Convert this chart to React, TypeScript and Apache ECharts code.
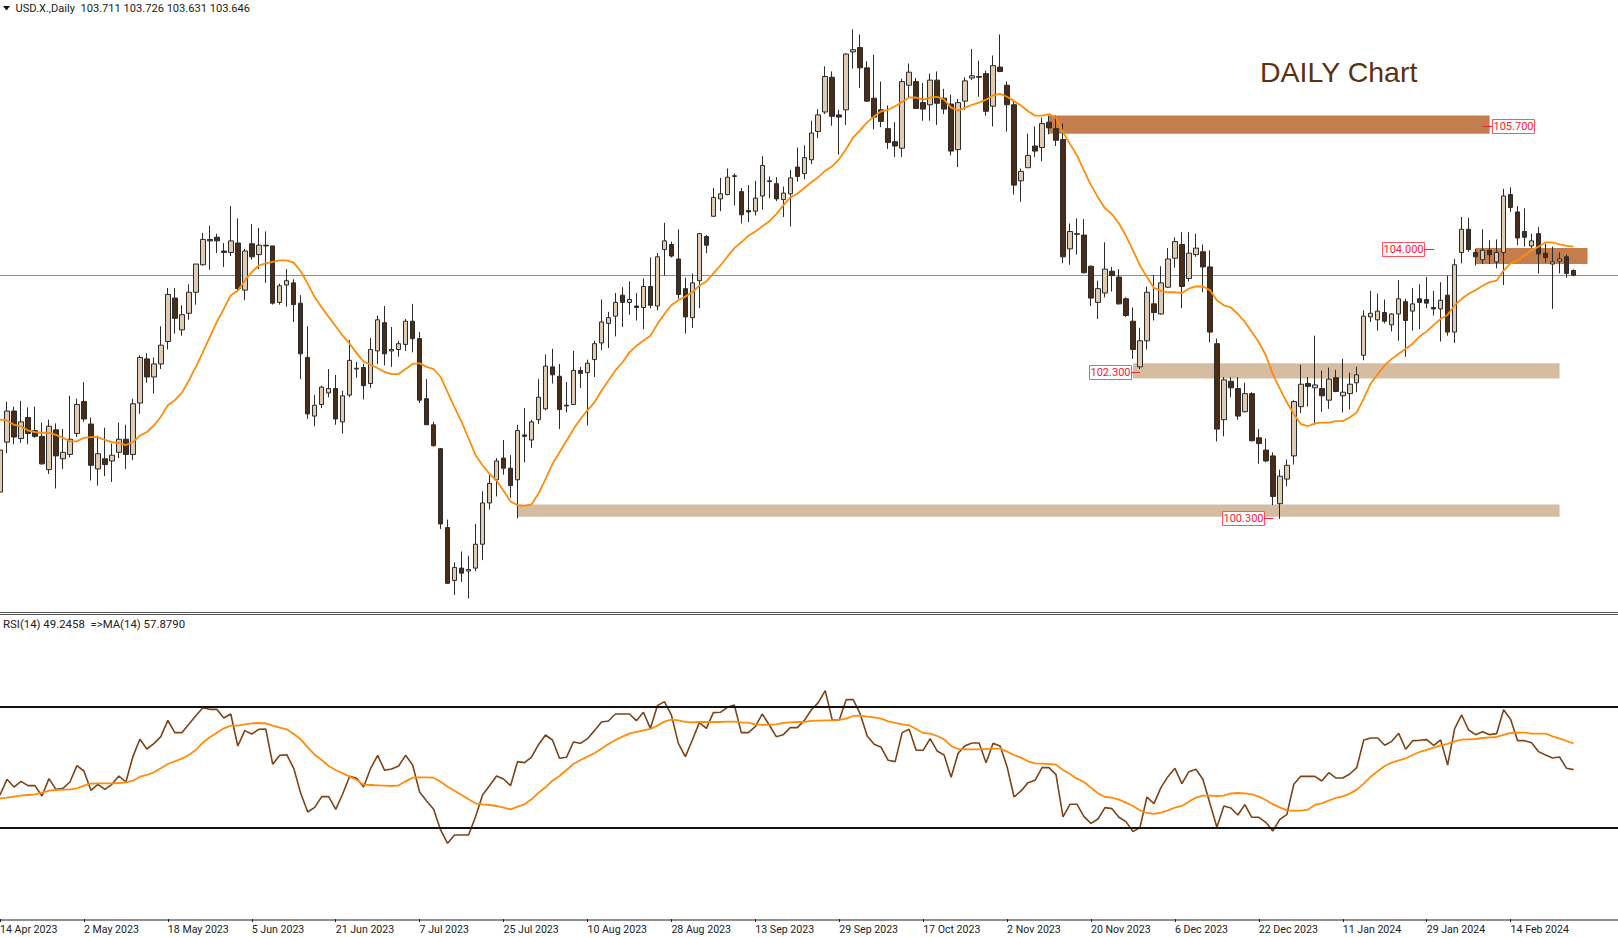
import React, { useEffect, useRef } from 'react';
import * as echarts from 'echarts';

const chartTitle = 'DAILY Chart';
const headerText = 'USD.X.,Daily  103.711 103.726 103.631 103.646';
const rsiText = 'RSI(14) 49.2458  =>MA(14) 57.8790';

// one label every 12 bars, starting at the first bar
const tickLabels = [
  '14 Apr 2023', '2 May 2023', '18 May 2023', '5 Jun 2023', '21 Jun 2023', '7 Jul 2023', '25 Jul 2023',
  '10 Aug 2023', '28 Aug 2023', '13 Sep 2023', '29 Sep 2023', '17 Oct 2023', '2 Nov 2023', '20 Nov 2023',
  '6 Dec 2023', '22 Dec 2023', '11 Jan 2024', '29 Jan 2024', '14 Feb 2024',
];

const lastClose = 103.646;
const rsiLevels = [70, 30];

// [open, close, low, high]
const candles = [
  [100.65,101.23,100.42,101.41],[101.34,101.77,101.19,101.90],[101.77,101.41,101.31,101.83],[101.39,101.62,101.33,101.91],
  [101.68,101.46,101.31,101.82],[101.50,101.42,101.40,101.83],[101.42,101.04,101.03,101.61],[100.96,101.56,100.90,101.65],
  [101.51,101.15,100.70,101.60],[101.11,101.20,100.97,101.52],[101.17,101.38,101.13,101.98],[101.46,101.86,101.41,101.94],
  [101.90,101.66,101.62,102.17],[101.59,101.02,100.81,101.68],[100.97,101.18,100.74,101.43],[101.11,101.03,100.87,101.54],
  [101.08,101.16,100.79,101.32],[101.20,101.38,101.12,101.61],[101.38,101.17,100.97,101.58],[101.17,101.87,101.09,101.94],
  [101.88,102.51,101.73,102.54],[102.49,102.24,102.16,102.57],[102.24,102.42,102.01,102.51],[102.42,102.68,102.35,102.94],
  [102.73,103.38,102.62,103.47],[103.33,103.05,102.84,103.47],[102.89,103.10,102.81,103.23],[103.12,103.41,103.03,103.52],
  [103.41,103.80,103.24,103.80],[103.79,104.14,103.78,104.23],[104.14,104.12,103.72,104.33],[104.17,104.12,103.95,104.22],
  [103.98,103.96,103.76,104.09],[103.96,104.12,103.91,104.60],[104.09,103.46,103.44,104.43],[103.44,103.98,103.30,104.01],
  [104.08,103.90,103.86,104.35],[103.93,104.06,103.73,104.30],[104.06,104.05,103.54,104.25],[104.05,103.26,103.24,104.05],
  [103.27,103.50,103.24,103.53],[103.51,103.57,103.21,103.73],[103.54,103.24,103.00,103.59],[103.26,102.56,102.21,103.37],
  [102.51,101.73,101.66,102.94],[101.70,101.85,101.56,101.99],[101.86,102.10,101.81,102.12],[102.02,102.08,101.96,102.35],
  [102.08,101.66,101.58,102.27],[101.62,101.98,101.46,102.05],[101.99,102.47,101.96,102.75],[102.35,102.36,102.23,102.45],
  [102.37,102.12,101.93,102.42],[102.15,102.62,102.09,102.78],[102.60,103.03,102.42,103.09],[102.99,102.56,102.40,103.22],
  [102.60,102.62,102.38,102.93],[102.62,102.70,102.52,102.74],[102.69,103.01,102.60,103.04],[103.01,102.77,102.58,103.25],
  [102.77,101.92,101.88,102.86],[101.94,101.58,101.58,102.21],[101.58,101.29,101.28,101.62],[101.25,100.21,100.14,101.26],
  [100.16,99.39,99.38,100.27],[99.43,99.61,99.23,99.68],[99.60,99.53,99.41,99.83],[99.56,99.58,99.18,99.77],
  [99.60,99.93,99.56,100.21],[99.93,100.50,99.71,100.66],[100.50,100.77,100.41,100.90],[100.82,101.08,100.59,101.12],
  [101.12,100.98,100.89,101.37],[100.98,100.74,100.57,101.16],[100.82,101.50,100.29,101.58],[101.44,101.42,101.06,101.81],
  [101.37,101.62,101.26,101.65],[101.65,101.96,101.59,102.21],[101.80,102.39,101.78,102.55],[102.38,102.27,102.15,102.63],
  [102.25,101.79,101.52,102.42],[101.85,101.84,101.75,102.17],[101.86,102.33,101.85,102.60],[102.33,102.29,102.09,102.38],
  [102.30,102.43,101.57,102.48],[102.48,102.70,102.24,102.74],[102.71,103.00,102.61,103.31],[102.98,103.06,102.64,103.14],
  [103.08,103.27,102.80,103.40],[103.37,103.27,102.93,103.48],[103.27,103.31,103.10,103.56],[103.22,103.20,103.02,103.40],
  [103.20,103.49,102.90,103.60],[103.49,103.23,103.19,103.89],[103.22,103.90,103.16,103.95],[104.00,104.12,103.64,104.37],
  [104.07,103.91,103.89,104.11],[103.87,103.38,103.32,104.28],[103.46,103.07,102.84,103.61],[103.06,103.54,102.92,103.67],
  [103.57,104.22,103.19,104.23],[104.18,104.06,103.95,104.20],[104.46,104.72,104.45,104.85],[104.70,104.77,104.53,104.99],
  [104.76,105.00,104.75,105.12],[105.01,105.02,104.61,105.05],[104.80,104.48,104.36,104.85],[104.54,104.52,104.38,104.89],
  [104.53,104.71,104.47,104.95],[104.74,105.16,104.55,105.29],[104.94,104.95,104.71,105.01],[104.91,104.70,104.67,105.00],
  [104.69,104.78,104.45,104.87],[104.77,104.99,104.32,105.10],[105.14,105.01,104.94,105.41],[105.05,105.27,104.97,105.44],
  [105.24,105.61,105.18,105.78],[105.63,105.86,105.54,105.94],[105.90,106.39,105.87,106.53],[106.38,105.84,105.71,106.46],
  [105.86,105.83,105.31,105.93],[105.93,106.70,105.72,106.71],[106.73,106.76,106.50,107.04],[106.79,106.51,106.23,106.97],
  [106.51,106.05,106.04,106.60],[106.09,105.83,105.66,106.69],[105.93,105.77,105.69,106.32],[105.67,105.48,105.39,105.99],
  [105.49,105.43,105.28,105.76],[105.40,106.32,105.28,106.36],[106.27,106.45,106.10,106.57],[106.32,105.95,105.95,106.37],
  [106.03,105.94,105.78,106.30],[106.00,106.34,105.78,106.43],[106.34,106.02,105.72,106.46],[106.09,105.94,105.87,106.22],
  [106.01,105.36,105.30,106.14],[105.38,106.03,105.14,106.08],[106.05,106.33,105.93,106.38],[106.37,106.40,106.34,106.77],
  [106.39,106.38,106.11,106.61],[106.43,105.91,105.85,106.47],[105.98,106.54,105.70,106.68],[106.52,106.46,106.45,106.97],
  [106.27,106.00,105.63,106.32],[106.00,104.89,104.76,106.07],[104.95,105.08,104.66,105.12],[105.13,105.30,105.13,105.60],
  [105.43,105.36,105.28,105.70],[105.41,105.74,105.22,105.82],[105.76,105.68,105.59,105.85],[105.67,105.51,105.43,105.85],
  [105.52,103.90,103.81,105.74],[104.01,104.25,103.79,104.36],[104.21,104.22,103.93,104.43],[104.20,103.68,103.67,104.42],
  [103.77,103.33,103.22,103.78],[103.27,103.46,103.04,103.57],[103.40,103.73,103.34,104.10],[103.70,103.64,103.42,103.76],
  [103.62,103.25,103.24,103.73],[103.32,103.09,103.07,103.34],[103.01,102.62,102.49,103.20],[102.38,102.74,102.35,102.92],
  [102.74,103.41,102.62,103.49],[103.25,103.13,103.02,103.65],[103.11,103.54,103.10,103.77],[103.48,103.87,103.47,104.02],
  [103.88,104.11,103.75,104.17],[104.07,103.49,103.19,104.24],[103.60,103.95,103.56,104.24],[103.93,104.02,103.90,104.22],
  [103.97,103.76,103.41,104.07],[103.76,102.86,102.72,103.99],[102.70,101.52,101.35,102.77],[101.65,102.20,101.42,102.24],
  [102.18,102.09,101.96,102.24],[102.08,101.70,101.65,102.24],[101.76,102.01,101.75,102.16],[102.01,101.36,101.35,102.03],
  [101.40,101.32,101.04,101.52],[101.23,101.08,101.06,101.39],[101.15,100.59,100.47,101.20],[100.49,100.87,100.28,100.96],
  [100.83,101.02,100.73,101.10],[101.15,101.90,101.03,101.92],[101.83,102.14,101.74,102.41],[102.15,102.11,101.83,102.24],
  [102.09,102.13,101.58,102.81],[102.08,101.98,101.76,102.33],[101.92,102.21,101.80,102.37],[102.23,102.04,102.03,102.34],
  [101.98,102.03,101.75,102.49],[102.01,102.14,101.79,102.30],[102.16,102.27,102.03,102.38],[102.54,103.08,102.47,103.16],
  [103.07,103.12,103.00,103.43],[103.03,103.15,102.88,103.39],[103.13,103.01,102.98,103.31],[102.96,103.11,102.87,103.12],
  [103.11,103.32,102.74,103.58],[103.28,103.02,102.52,103.32],[103.15,103.25,102.88,103.47],[103.32,103.27,102.90,103.52],
  [103.31,103.26,103.19,103.62],[103.20,103.18,103.09,103.43],[103.18,103.30,102.73,103.55],[103.37,102.86,102.81,103.64],
  [102.86,103.79,102.71,103.87],[103.96,104.28,103.81,104.45],[104.28,104.00,103.97,104.44],[103.96,103.90,103.78,104.01],
  [103.86,103.99,103.80,104.28],[103.99,103.93,103.80,104.13],[103.83,103.96,103.74,104.14],[103.96,104.74,103.51,104.84],
  [104.76,104.58,104.52,104.86],[104.52,104.16,104.06,104.60],[104.25,104.17,104.04,104.57],[104.05,104.12,104.02,104.22],
  [104.22,103.94,103.67,104.31],[103.95,103.89,103.82,104.08],[103.80,103.83,103.18,104.04],[103.84,103.87,103.67,103.96],
  [103.90,103.67,103.61,103.93],[103.711,103.646,103.631,103.726],
];

const priceMa = [
  101.65,101.64,101.58,101.56,101.50,101.48,101.47,101.47,101.44,101.40,101.35,101.35,101.40,101.41,101.41,101.37,
  101.34,101.33,101.30,101.34,101.43,101.48,101.57,101.69,101.85,101.92,102.02,102.19,102.38,102.58,102.79,103.00,
  103.18,103.37,103.43,103.57,103.69,103.78,103.81,103.83,103.85,103.85,103.82,103.70,103.53,103.34,103.20,103.07,
  102.94,102.81,102.70,102.57,102.45,102.41,102.36,102.31,102.28,102.28,102.35,102.42,102.43,102.38,102.35,102.24,
  102.03,101.82,101.62,101.39,101.16,101.02,100.90,100.81,100.67,100.52,100.47,100.46,100.48,100.63,100.83,101.04,
  101.20,101.36,101.52,101.66,101.78,101.89,102.05,102.19,102.33,102.44,102.58,102.67,102.74,102.81,102.97,103.11,
  103.23,103.30,103.35,103.41,103.50,103.56,103.67,103.78,103.90,104.02,104.10,104.19,104.25,104.32,104.39,104.49,
  104.61,104.72,104.77,104.85,104.93,105.00,105.09,105.15,105.25,105.39,105.55,105.65,105.76,105.84,105.91,105.93,
  105.98,106.04,106.10,106.10,106.07,106.10,106.11,106.07,105.96,105.92,105.96,106.00,106.03,106.07,106.13,106.15,
  106.11,106.05,105.99,105.91,105.85,105.85,105.87,105.82,105.62,105.46,105.30,105.09,104.89,104.72,104.57,104.49,
  104.36,104.19,103.99,103.78,103.62,103.47,103.43,103.41,103.41,103.40,103.46,103.49,103.49,103.44,103.30,103.23,
  103.20,103.11,103.00,102.86,102.72,102.54,102.28,102.08,101.89,101.73,101.59,101.56,101.60,101.61,101.61,101.63,
  101.63,101.68,101.75,101.94,102.15,102.28,102.40,102.49,102.56,102.63,102.70,102.80,102.87,102.96,103.04,103.10,
  103.23,103.32,103.39,103.44,103.50,103.55,103.57,103.71,103.81,103.85,103.92,103.99,104.04,104.10,104.10,104.07,
  104.05,104.04,
];

const rsiValues = [
  40.89,46.05,43.52,45.39,43.96,43.96,40.56,46.27,42.75,43.08,45.17,50.56,48.80,42.42,44.40,42.75,44.40,47.15,45.17,53.52,
  59.24,56.05,57.81,60.12,65.50,61.44,61.44,64.18,67.04,69.68,69.13,69.13,66.27,67.59,57.04,62.10,61.00,62.54,62.65,51.00,
  53.96,54.18,49.68,41.43,35.28,36.82,40.34,40.34,36.16,41.22,47.04,46.38,43.52,49.68,53.96,49.02,49.46,50.45,53.96,50.78,
  41.88,38.91,36.16,29.35,24.95,27.70,27.70,27.70,33.74,40.89,43.96,47.15,46.16,43.96,51.88,51.55,53.41,57.48,
  60.67,59.02,52.98,53.31,58.36,57.92,59.46,62.10,64.96,65.29,67.60,67.60,67.60,65.40,68.15,62.87,70.34,71.66,67.27,57.92,
  53.53,59.02,64.74,62.87,68.04,68.15,69.79,70.56,61.44,61.44,63.42,67.60,63.97,60.12,60.78,63.09,63.09,65.40,68.91,71.33,
  75.29,65.62,65.62,72.32,72.32,67.60,60.34,57.60,56.61,52.32,51.88,61.44,62.54,55.62,55.62,59.46,55.40,54.08,46.72,54.63,
  57.16,58.03,58.03,51.55,57.92,57.05,50.23,40.23,42.21,44.96,45.73,49.90,49.90,47.59,33.64,37.81,37.81,
  33.75,31.55,32.98,36.71,36.38,33.53,32.10,28.80,30.12,40.23,38.03,43.31,46.93,49.68,44.63,48.58,49.35,46.06,38.14,30.23,
  37.26,36.60,34.30,37.70,33.53,33.53,31.88,29.02,32.87,34.41,44.41,47.04,47.04,47.04,45.51,48.25,46.50,46.50,47.81,49.90,
  59.02,59.68,59.68,57.27,58.58,61.22,55.95,58.80,58.91,59.13,57.27,59.02,50.78,62.76,67.27,62.32,60.78,61.77,60.78,61.11,
  69.02,65.84,58.80,58.80,58.14,55.18,54.08,53.09,53.42,49.68,49.25,
];

const rsiMa = [
  39.79,40.01,40.34,40.67,40.89,41.11,41.65,42.31,42.53,42.64,42.75,43.08,43.96,44.62,44.73,44.73,44.73,44.84,45.06,45.61,
  46.93,47.48,48.36,49.68,51.11,51.99,52.86,54.07,55.72,58.14,59.90,61.44,62.87,63.74,63.74,64.18,64.51,64.62,64.51,63.74,
  63.09,62.54,61.00,59.24,56.60,54.18,52.42,50.45,49.13,48.03,46.93,45.83,44.29,44.18,44.07,43.96,43.85,44.07,45.39,46.60,
  46.71,46.71,46.60,45.28,43.63,42.31,40.89,39.46,38.14,37.81,37.59,37.26,36.71,36.16,37.04,37.81,39.46,41.65,
  43.42,45.62,47.15,49.13,51.11,52.43,53.53,54.63,56.17,57.71,59.02,60.12,61.11,61.66,62.21,62.65,63.75,65.07,65.73,65.51,
  64.96,64.85,64.96,64.96,64.96,64.96,65.07,65.07,64.85,64.74,64.19,63.97,64.08,64.19,64.63,64.85,64.96,64.96,65.29,65.40,
  65.51,65.51,65.62,66.06,66.94,67.05,66.72,66.50,66.06,65.18,64.63,64.19,63.86,62.65,61.33,61.11,60.34,59.24,57.05,56.06,
  55.95,55.95,55.95,56.06,56.17,56.17,55.18,54.08,53.20,51.99,51.33,51.22,51.11,50.89,49.13,47.81,46.28,
  45.18,43.31,41.44,40.23,40.01,39.35,38.36,37.26,35.84,34.96,34.63,35.07,35.84,36.71,37.26,38.69,40.01,40.67,40.67,40.56,
  40.67,41.44,41.55,41.44,41.11,40.34,39.24,37.81,36.82,35.84,35.73,35.73,36.05,37.59,38.14,39.02,39.90,40.45,41.33,42.65,
  44.63,46.93,48.69,50.45,51.55,52.32,52.98,54.08,55.07,55.73,56.50,57.27,57.71,58.58,59.13,59.24,59.35,59.68,59.90,60.01,
  60.67,61.33,61.44,61.44,61.11,61.11,61.11,60.23,59.46,58.69,57.88,
];

// [first bar, last bar, upper price, lower price]
const darkZones = [
  [150, 213, 105.85, 105.60],
  [211, 227, 104.02, 103.80],
];
const lightZones = [
  [162, 223, 102.43, 102.22],
  [74, 223, 100.48, 100.31],
];

// text, box left, box top, dash start, dash end
const levelLabels: [string, number, number, number, number][] = [
  ['105.700', 1492, 119, 1483, 1492],
  ['104.000', 1382, 242, 1424, 1434],
  ['102.300', 1089, 365, 1131, 1140],
  ['100.300', 1222, 511, 1264, 1273],
];

const BAR_COUNT = 233; // the axis runs on past the last candle
const categories = Array.from({ length: BAR_COUNT }, (_, i) => String(i));
const uiFont = 'Roboto';
const red = '#f5202f';

function zoneAreas(zones: number[][], color: string) {
  return zones.map(([from, to, top, bottom]) => [
    { xAxis: from, yAxis: top, itemStyle: { color, opacity: 1 } },
    { xAxis: to, yAxis: bottom },
  ]);
}

function levelGraphics() {
  const out: any[] = [];
  levelLabels.forEach(([text, left, top, dashFrom, dashTo]) => {
    out.push({
      type: 'rect',
      shape: { x: left + 0.5, y: top + 0.5, width: 42, height: 14 },
      style: { fill: '#fff', stroke: '#ff5560', lineWidth: 1 },
      z: 20,
    });
    out.push({
      type: 'text',
      x: left + 21.5,
      y: top + 7.5,
      style: { text, fill: red, font: `11px ${uiFont}`, textAlign: 'center', textVerticalAlign: 'middle' },
      z: 21,
    });
    out.push({
      type: 'line',
      shape: { x1: dashFrom, y1: top + 7.5, x2: dashTo, y2: top + 7.5 },
      style: { stroke: red, lineWidth: 1 },
      z: 20,
    });
  });
  return out;
}

function buildOption() {
  return {
    animation: false,
    backgroundColor: '#ffffff',
    grid: [
      { left: 0, top: 0.5, width: 1622.5, height: 612, outerBoundsMode: 'none' },
      { left: 0, top: 615.7, width: 1622.5, height: 303.3, outerBoundsMode: 'none' },
    ],
    xAxis: [
      { type: 'category', gridIndex: 0, data: categories, boundaryGap: false, show: false },
      {
        type: 'category',
        gridIndex: 1,
        data: categories,
        boundaryGap: false,
        axisLine: { show: false },
        axisTick: {
          show: true,
          length: 3,
          lineStyle: { color: '#222' },
          interval: (i: number) => i % 12 === 0 && i / 12 < tickLabels.length,
        },
        axisLabel: {
          show: true,
          color: '#222',
          fontFamily: uiFont,
          fontSize: 10.6,
          align: 'left',
          margin: 5,
          hideOverlap: false,
          interval: (i: number) => i % 12 === 0 && i / 12 < tickLabels.length,
          formatter: (_v: string, i: number) => tickLabels[i / 12] ?? '',
        },
        splitLine: { show: false },
      },
    ],
    yAxis: [
      { type: 'value', gridIndex: 0, min: 98.987, max: 107.44, show: false, splitLine: { show: false } },
      { type: 'value', gridIndex: 1, min: 0, max: 100, show: false, splitLine: { show: false } },
    ],
    series: [
      {
        name: 'zones',
        type: 'line',
        xAxisIndex: 0,
        yAxisIndex: 0,
        data: [],
        z: 1,
        silent: true,
        markArea: {
          silent: true,
          data: [...zoneAreas(darkZones, '#c47d4c'), ...zoneAreas(lightZones, '#d6bda2')],
        },
      },
      {
        name: 'USD.X.',
        type: 'candlestick',
        xAxisIndex: 0,
        yAxisIndex: 0,
        barWidth: 5,
        z: 3,
        data: candles,
        itemStyle: {
          color: '#e0ccb2',
          color0: '#4a2c17',
          borderColor: '#2b2b2b',
          borderColor0: '#2b2b2b',
          borderWidth: 1,
        },
        markLine: {
          silent: true,
          symbol: 'none',
          label: { show: false },
          lineStyle: { color: '#8592a6', width: 1, type: 'solid' },
          data: [{ yAxis: lastClose }],
          z: 2,
        },
      },
      {
        name: 'MA',
        type: 'line',
        xAxisIndex: 0,
        yAxisIndex: 0,
        data: priceMa,
        showSymbol: false,
        z: 4,
        lineStyle: { color: '#ff8c0a', width: 1.8 },
      },
      {
        name: 'RSI',
        type: 'line',
        xAxisIndex: 1,
        yAxisIndex: 1,
        data: rsiValues,
        showSymbol: false,
        z: 4,
        lineStyle: { color: '#7b4519', width: 1.6 },
        markLine: {
          silent: true,
          symbol: 'none',
          label: { show: false },
          lineStyle: { color: '#111', width: 2, type: 'solid' },
          data: rsiLevels.map((v) => ({ yAxis: v })),
        },
      },
      {
        name: 'RSI MA',
        type: 'line',
        xAxisIndex: 1,
        yAxisIndex: 1,
        data: rsiMa,
        showSymbol: false,
        z: 5,
        lineStyle: { color: '#ff8c0a', width: 1.8 },
      },
    ],
    graphic: [
      { type: 'polygon', shape: { points: [[3, 6], [10, 6], [6.5, 10.5]] }, style: { fill: '#111' }, z: 20 },
      {
        type: 'text',
        x: 15.5,
        y: 8,
        style: { text: headerText, fill: '#222', font: `11.1px ${uiFont}`, textVerticalAlign: 'middle' },
        z: 20,
      },
      {
        type: 'text',
        x: 3,
        y: 624,
        style: { text: rsiText, fill: '#222', font: `11.4px ${uiFont}`, textVerticalAlign: 'middle' },
        z: 20,
      },
      {
        type: 'text',
        x: 1260,
        y: 72,
        style: { text: chartTitle, fill: '#5a3210', font: '28.5px "Liberation Sans"', textVerticalAlign: 'middle' },
        z: 20,
      },
      // pane separators
      { type: 'line', shape: { x1: 0, y1: 612.5, x2: 1618, y2: 612.5 }, style: { stroke: '#555', lineWidth: 1 }, z: 10 },
      { type: 'line', shape: { x1: 0, y1: 614.5, x2: 1618, y2: 614.5 }, style: { stroke: '#555', lineWidth: 1 }, z: 10 },
      { type: 'line', shape: { x1: 0, y1: 920, x2: 1618, y2: 920 }, style: { stroke: '#222', lineWidth: 1 }, z: 10 },
      ...levelGraphics(),
    ],
  };
}

export default function App() {
  const chartRef = useRef<HTMLDivElement>(null);

  useEffect(() => {
    if (!chartRef.current) return;
    document.body.style.margin = '0';
    const chart = echarts.init(chartRef.current, undefined, { renderer: 'svg' });
    chart.setOption(buildOption() as any);
    return () => {
      chart.dispose();
    };
  }, []);

  return <div ref={chartRef} style={{ width: 1618, height: 937, background: '#fff' }} />;
}
